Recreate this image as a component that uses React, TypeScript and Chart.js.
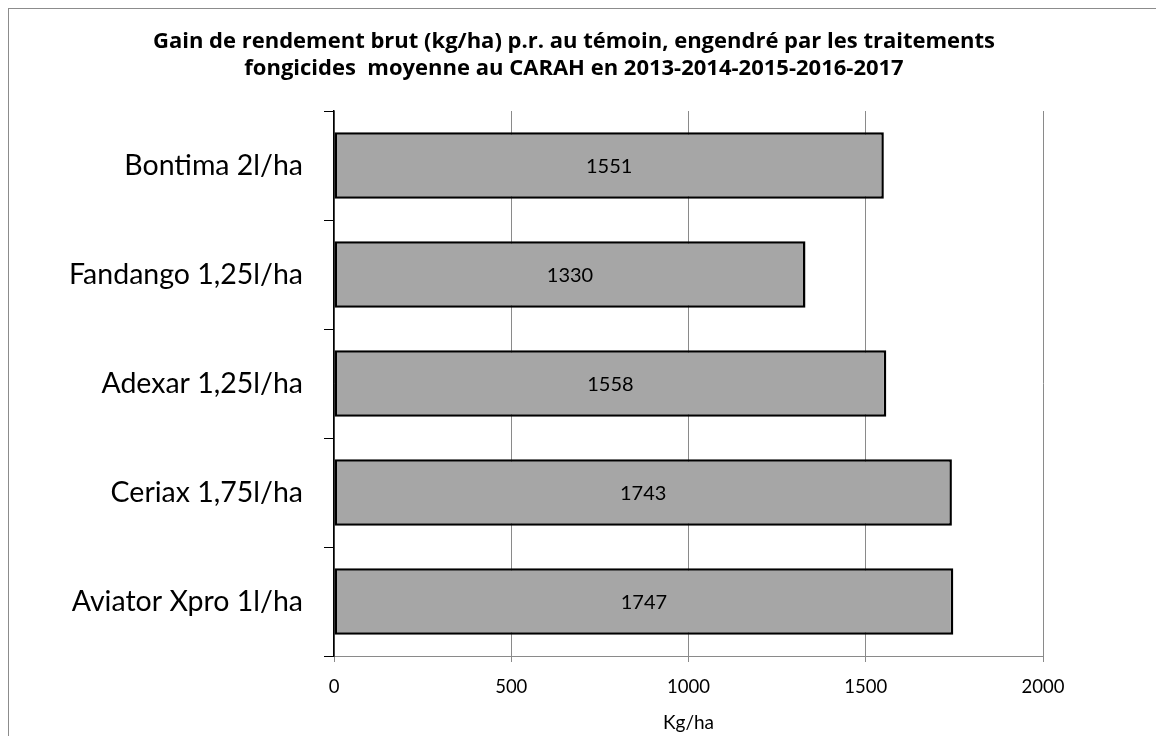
import React, { useEffect, useRef } from "react";
import { Chart, registerables } from "chart.js";

Chart.register(...registerables);

const categories = [
  "Bontima 2l/ha",
  "Fandango 1,25l/ha",
  "Adexar 1,25l/ha",
  "Ceriax 1,75l/ha",
  "Aviator Xpro 1l/ha",
];
const gains = [1551, 1330, 1558, 1743, 1747];
const titleLines = [
  "Gain de rendement brut (kg/ha) p.r. au témoin, engendré par les traitements",
  "fongicides  moyenne au CARAH en 2013-2014-2015-2016-2017",
];
const xAxisTitle = "Kg/ha";
const xMin = 0;
const xMax = 2000;
const xStep = 500;

const FONT = "Lato, 'Open Sans', sans-serif";
const TITLE_FONT = "'Open Sans', Lato, sans-serif";

const titlePlugin = {
  id: "customTitle",
  afterDraw(chart: any) {
    const ctx = chart.ctx;
    ctx.save();
    ctx.font = `bold 22px ${TITLE_FONT}`;
    ctx.fillStyle = "#000";
    ctx.textAlign = "center";
    ctx.textBaseline = "alphabetic";
    ctx.fillText(titleLines[0], 565, 39);
    ctx.fillText(titleLines[1], 565, 66);
    ctx.restore();
  },
};

const valueLabelPlugin = {
  id: "valueLabels",
  afterDatasetsDraw(chart: any) {
    const ctx = chart.ctx;
    const meta = chart.getDatasetMeta(0);
    ctx.save();
    ctx.font = `20px ${FONT}`;
    ctx.fillStyle = "#000";
    ctx.textAlign = "center";
    ctx.textBaseline = "middle";
    meta.data.forEach((bar: any, i: number) => {
      const cx = (bar.x + bar.base) / 2;
      ctx.fillText(String(gains[i]), cx, bar.y + 1);
    });
    ctx.restore();
  },
};

export default function App() {
  const ref = useRef<HTMLCanvasElement | null>(null);
  useEffect(() => {
    if (!ref.current) return;
    const chart = new Chart(ref.current, {
      type: "bar",
      data: {
        labels: categories,
        datasets: [
          {
            data: gains,
            backgroundColor: "#a6a6a6",
            borderColor: "#000000",
            borderWidth: 2.5,
            borderSkipped: false,
            barPercentage: 0.61,
            categoryPercentage: 1,
          },
        ],
      },
      options: {
        indexAxis: "y",
        animation: false,
        responsive: false,
        maintainAspectRatio: false,
        devicePixelRatio: 1,
        layout: { padding: { top: 102, right: 120, left: 0, bottom: 0 } },
        plugins: {
          legend: { display: false },
          title: { display: false },
          tooltip: { enabled: false },
        },
        scales: {
          x: {
            type: "linear",
            min: xMin,
            max: xMax,
            ticks: {
              stepSize: xStep,
              color: "#000",
              font: { family: FONT, size: 18.5 },
              padding: 14,
              callback: (v: any) => String(v),
            },
            grid: {
              color: "#8a8a8a",
              lineWidth: 1,
              tickLength: 6,
              drawTicks: true,
            },
            border: { color: "#8a8a8a", width: 1 },
            title: {
              display: true,
              text: xAxisTitle,
              color: "#000",
              font: { family: FONT, size: 19 },
              padding: { top: 0, bottom: 1 },
            },
            afterFit(scale: any) {
              scale.height = 79;
            },
          },
          y: {
            type: "category",
            ticks: {
              color: "#000",
              font: { family: FONT, size: 28.5 },
              padding: 21,
            },
            grid: {
              display: true,
              drawOnChartArea: false,
              drawTicks: true,
              tickLength: 10,
              color: "#000",
              offset: true,
            },
            border: { color: "#000", width: 1.5 },
            afterFit(scale: any) {
              scale.width = 325;
            },
          },
        },
      },
      plugins: [titlePlugin, valueLabelPlugin],
    } as any);
    return () => chart.destroy();
  }, []);

  return (
    <div
      style={{
        width: 1156,
        height: 728,
        borderTop: "1px solid #8c8c8c",
        borderLeft: "1px solid #8c8c8c",
        boxSizing: "border-box",
        background: "#fff",
      }}
    >
      <canvas ref={ref} width={1154} height={726} style={{ display: "block" }} />
    </div>
  );
}
